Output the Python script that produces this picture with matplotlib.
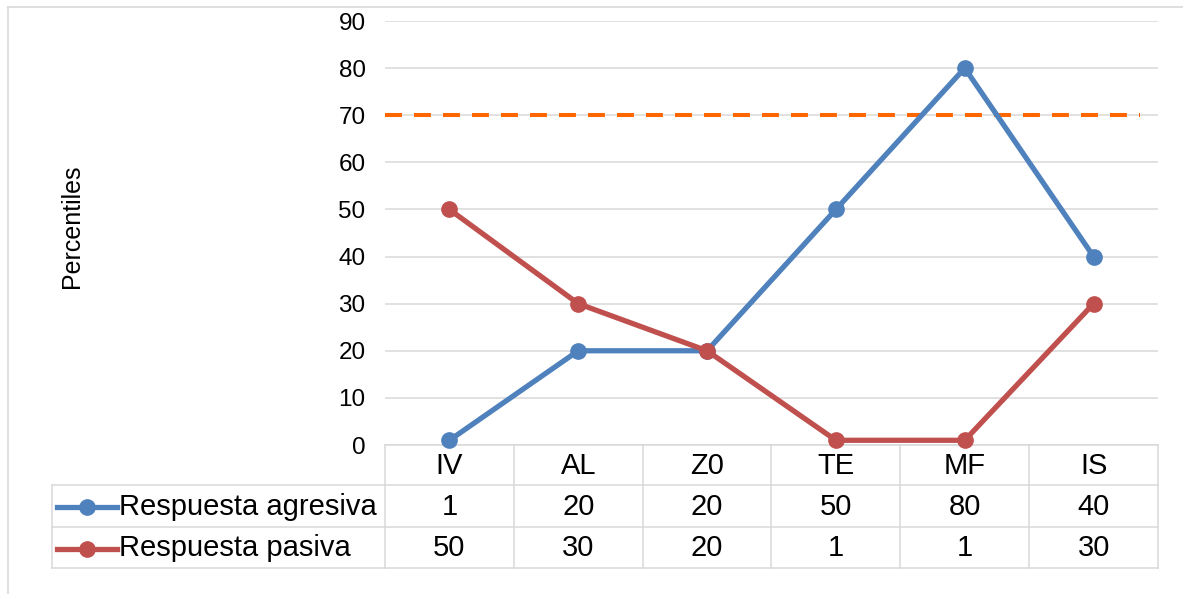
import numpy as np
import matplotlib
matplotlib.use("Agg")
import matplotlib.pyplot as plt
from matplotlib.transforms import blended_transform_factory

categories = ["IV", "AL", "Z0", "TE", "MF", "IS"]
agresiva = [1, 20, 20, 50, 80, 40]
pasiva = [50, 30, 20, 1, 1, 30]
series_names = ["Respuesta agresiva", "Respuesta pasiva"]
threshold = 70
yticks = [0, 10, 20, 30, 40, 50, 60, 70, 80, 90]

plt.rcParams["font.family"] = ["Liberation Sans", "DejaVu Sans"]

blue = "#4F81BD"
red = "#C0504D"
orange = "#FF6600"
grid_c = "#D9D9D9"

W, H = 1183, 594
fig = plt.figure(figsize=(W / 100, H / 100), dpi=100)

# pixel overlay for frame, table and labels
px = fig.add_axes([0, 0, 1, 1], zorder=0)
px.set_xlim(0, W)
px.set_ylim(H, 0)
px.axis("off")

ax = fig.add_axes([385 / W, 1 - 445 / H, (1158 - 385) / W, (445 - 21) / H], zorder=1)
ax.patch.set_alpha(0)
n = len(categories)
x = np.arange(n)
ax.set_xlim(-0.5, n - 0.5)
ax.set_ylim(0, 90)
ax.set_yticks(yticks)
ax.set_xticks([])
ax.tick_params(axis="y", length=0, pad=14, labelsize=17.5)
for s in ax.spines.values():
    s.set_visible(False)
ax.yaxis.grid(True, color=grid_c, linewidth=1.1)
ax.set_axisbelow(True)

ax.hlines(threshold, -0.5, n - 0.64, colors=orange, linewidth=2.9,
          linestyles=(0, (4.2, 3.0)), zorder=2)
ax.plot(x, agresiva, color=blue, linewidth=3.8, marker="o", markersize=11,
        clip_on=False, zorder=3)
ax.plot(x, pasiva, color=red, linewidth=3.8, marker="o", markersize=11,
        clip_on=False, zorder=3)

# outer chart frame (left and top visible)
px.plot([8, 8], [H + 5, 7], color=grid_c, linewidth=1.2, clip_on=False)
px.plot([8, W + 5], [7, 7], color=grid_c, linewidth=1.2, clip_on=False)

px.text(72, 226, "Percentiles", rotation=90, ha="center", va="center", fontsize=18)

# data table under the axis
tr = blended_transform_factory(ax.transData, px.transData)
rows_y = [445, 485, 527, 568]
lw_t = 1.1
px.plot([-0.5, n - 0.5], [rows_y[0], rows_y[0]], color=grid_c, lw=lw_t, transform=tr)
for yy in rows_y[1:]:
    px.plot([52, 385], [yy, yy], color=grid_c, lw=lw_t)
    px.plot([-0.5, n - 0.5], [yy, yy], color=grid_c, lw=lw_t, transform=tr)
px.plot([52, 52], [rows_y[1], rows_y[3]], color=grid_c, lw=lw_t)
for b in np.arange(n + 1) - 0.5:
    px.plot([b, b], [rows_y[0], rows_y[3]], color=grid_c, lw=lw_t, transform=tr)

fs_t = 21
for i, c in enumerate(categories):
    px.text(i, (rows_y[0] + rows_y[1]) / 2 + 1, c, ha="center", va="center",
            fontsize=fs_t, transform=tr)

for r, (name, vals, col) in enumerate(zip(series_names, [agresiva, pasiva], [blue, red])):
    yc = (rows_y[r + 1] + rows_y[r + 2]) / 2 + 1
    px.plot([57, 87, 117], [yc, yc, yc], color=col, lw=3.8, marker="o",
            markersize=11, markevery=[1])
    px.text(119, yc, name, ha="left", va="center", fontsize=fs_t)
    for i, v in enumerate(vals):
        px.text(i, yc, str(v), ha="center", va="center", fontsize=fs_t, transform=tr)

fig.savefig("out.png", dpi=100)
